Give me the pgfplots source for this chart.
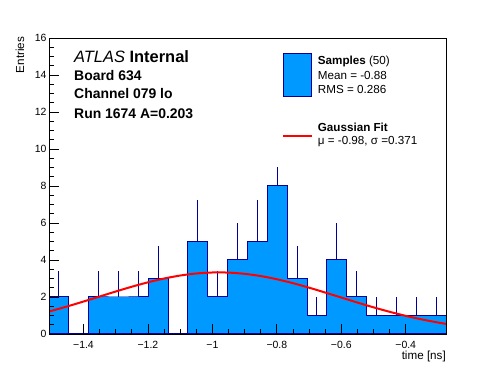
\documentclass[border=0pt]{standalone}
\usepackage{fontspec}
\setmainfont{Liberation Sans}
\usepackage{pgfplots}
\pgfplotsset{compat=1.18}
\definecolor{rootblue}{RGB}{0,153,255}
\definecolor{rootnavy}{RGB}{0,0,153}
\begin{document}
\begin{tikzpicture}
\path[use as bounding box] (0,0) rectangle (496bp,372bp);
\begin{axis}[
  at={(49bp,38bp)}, anchor=south west,
  scale only axis, width=397bp, height=296bp,
  xmin=-1.507, xmax=-0.275, ymin=0, ymax=16,
  axis on top,
  tick align=inside, tick pos=left,
  xtick={-1.4,-1.2,-1,-0.8,-0.6,-0.4},
  xticklabels={−1.4,−1.2,−1,−0.8,−0.6,−0.4},
  ytick={0,2,4,6,8,10,12,14,16},
  minor x tick num=3, minor y tick num=3,
  major tick length=10bp, minor tick length=5bp,
  tick style={black, line width=0.8bp},
  axis line style={line width=0.9bp},
  /pgf/number format/assume math mode=true,
  tick label style={font=\fontsize{10.5}{12}\selectfont},
  xticklabel style={inner sep=0pt, anchor=north, yshift=-7bp},
  yticklabel style={inner sep=0pt, anchor=east, xshift=-2.3bp},
]
% error bars (sqrt N), drawn above bin contents
\addplot[draw=none, no markers, forget plot,
  error bars/.cd, y dir=plus, y explicit, error mark=none,
  error bar style={draw=rootnavy, line width=1bp}]
  table[x=x, y=y, y error=e] {
x y e
-1.4762 2 1.414
-1.4146 0 0
-1.3530 2 1.414
-1.2914 2 1.414
-1.2298 2 1.414
-1.1682 3 1.732
-1.1066 0 0
-1.0450 5 2.236
-0.9834 2 1.414
-0.9218 4 2.000
-0.8602 5 2.236
-0.7986 8 2.828
-0.7370 3 1.732
-0.6754 1 1.000
-0.6138 4 2.000
-0.5522 2 1.414
-0.4906 1 1.000
-0.4290 1 1.000
-0.3674 1 1.000
-0.3058 1 1.000
};
% histogram
\addplot[const plot, fill=rootblue, draw=rootnavy, line width=1bp] coordinates {
(-1.5070,2) (-1.4454,0) (-1.3838,2) (-1.3222,2) (-1.2606,2) (-1.1990,3)
(-1.1374,0) (-1.0758,5) (-1.0142,2) (-0.9526,4) (-0.8910,5) (-0.8294,8)
(-0.7678,3) (-0.7062,1) (-0.6446,4) (-0.5830,2) (-0.5214,1) (-0.4598,1)
(-0.3982,1) (-0.3366,1) (-0.2750,1)
} \closedcycle;
% Gaussian fit
\addplot[red, line width=2bp, smooth] coordinates {
(-1.507,1.214) (-1.45,1.493) (-1.40,1.755) (-1.35,2.025) (-1.30,2.296)
(-1.25,2.556) (-1.20,2.793) (-1.15,2.998) (-1.10,3.160) (-1.05,3.271)
(-1.00,3.325) (-0.98,3.330) (-0.95,3.319) (-0.90,3.253) (-0.85,3.132)
(-0.80,2.960) (-0.75,2.748) (-0.70,2.505) (-0.65,2.242) (-0.60,1.971)
(-0.55,1.701) (-0.50,1.442) (-0.45,1.200) (-0.40,0.981) (-0.35,0.788)
(-0.30,0.621) (-0.275,0.547)
};
\end{axis}
% legend box (opaque, like ROOT's TLegend)
\fill[white] (270bp,205bp) rectangle (445bp,330bp);
\fill[rootblue, draw=rootnavy, line width=1bp] (283.3bp,275.3bp) rectangle (311.7bp,318.7bp);
\draw[red, line width=2bp] (283bp,236bp) -- (312bp,236bp);
\begin{scope}[every node/.style={inner sep=0pt, anchor=base west, font=\fontsize{11.7}{13}\selectfont}]
\node at (317.7bp,307bp) {\textbf{Samples} (50)};
\node at (317.7bp,292bp) {Mean = -0.88};
\node at (317.7bp,278.7bp) {RMS = 0.286};
\node at (317.7bp,240.3bp) {\textbf{Gaussian Fit}};
\node at (317.7bp,227bp) {μ = -0.98, σ =0.371};
\end{scope}
% ATLAS labels
\begin{scope}[every node/.style={inner sep=0pt, anchor=base west}]
\node[font=\fontsize{16.5}{18}\selectfont] at (74bp,309bp) {\textit{ATLAS} \textbf{Internal}};
\node[font=\fontsize{14}{16}\selectfont\bfseries] at (74bp,291bp) {Board 634};
\node[font=\fontsize{14}{16}\selectfont\bfseries] at (74bp,273bp) {Channel 079 lo};
\node[font=\fontsize{14}{16}\selectfont\bfseries] at (74bp,253.7bp) {Run 1674 A=0.203};
\end{scope}
% axis titles
\node[rotate=90, anchor=base east, inner sep=0pt, font=\fontsize{11.7}{13}\selectfont] at (24bp,335.3bp) {Entries};
\node[anchor=base east, inner sep=0pt, font=\fontsize{11.7}{13}\selectfont] at (446bp,13bp) {time [ns]};
\end{tikzpicture}
\end{document}
